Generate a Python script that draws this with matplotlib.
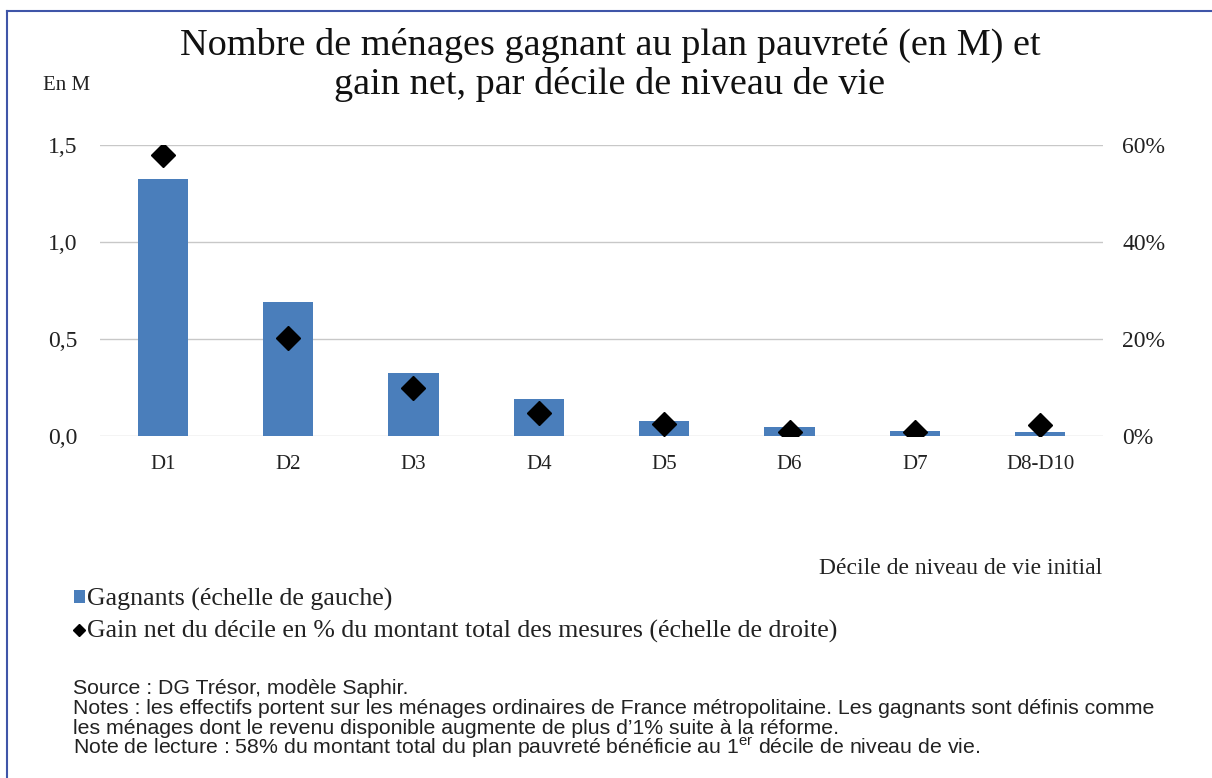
import matplotlib

matplotlib.use("Agg")
import matplotlib.pyplot as plt
from matplotlib.lines import Line2D
from matplotlib.ticker import FuncFormatter

# data
deciles = ["D1", "D2", "D3", "D4", "D5", "D6", "D7", "D8-D10"]
gagnants = [1.325, 0.69, 0.325, 0.19, 0.077, 0.046, 0.026, 0.02]  # millions of households
gain_net = [58.0, 20.2, 9.9, 4.7, 2.5, 0.8, 0.9, 2.3]  # % of total amount
left_ticks = [0.0, 0.5, 1.0, 1.5]
right_ticks = [0, 20, 40, 60]

W, H = 1212, 778
SERIF = ["Liberation Serif", "DejaVu Serif"]
SANS = ["Liberation Sans", "DejaVu Sans"]
BAR_COLOR = "#4A7EBB"
GRID_COLOR = "#C8C8C8"
FRAME_COLOR = "#3F55A8"

fig = plt.figure(figsize=(W / 100, H / 100), dpi=100)
fig.patch.set_facecolor("white")

# plot area in pixels: x 100..1103, y 145 (top) .. 436 (bottom)
ax = fig.add_axes([100 / W, 1 - 436 / H, (1103 - 100) / W, (436 - 145) / H])
ax2 = ax.twinx()

x = list(range(len(deciles)))
bars = ax.bar(x, gagnants, width=0.4, color=BAR_COLOR, zorder=2,
              label="Gagnants (échelle de gauche)")
ax.set_xlim(-0.5, len(deciles) - 0.5)
ax.set_ylim(0, 1.5)
ax.set_yticks(left_ticks)
ax.yaxis.set_major_formatter(FuncFormatter(lambda v, _: f"{v:.1f}".replace(".", ",")))
ax.set_xticks(x)
ax.set_xticklabels(deciles)
ax.grid(axis="y", color=GRID_COLOR, linewidth=1.0, zorder=0)
ax.set_axisbelow(True)

points, = ax2.plot(x, gain_net, linestyle="none", marker="D", markersize=12,
                   color="black", zorder=3,
                   label="Gain net du décile en % du montant total des mesures (échelle de droite)")
ax2.set_ylim(0, 60)
ax2.set_yticks(right_ticks)
ax2.yaxis.set_major_formatter(FuncFormatter(lambda v, _: f"{v:.0f}%"))

for a in (ax, ax2):
    for s in a.spines.values():
        s.set_visible(False)
    a.tick_params(length=0, labelsize=15, colors="#222222")
ax.tick_params(axis="y", pad=16, labelsize=17)
ax.tick_params(axis="x", pad=14)
ax2.tick_params(axis="y", pad=14, labelsize=17)
for lab in ax.get_xticklabels() + ax.get_yticklabels() + ax2.get_yticklabels():
    lab.set_fontfamily(SERIF)
ax2.set_zorder(ax.get_zorder() + 1)
ax2.patch.set_visible(False)

# title and axis captions
fig.text(610 / W, 1 - 45 / H, "Nombre de ménages gagnant au plan pauvreté (en M) et",
         ha="center", va="center", fontsize=27.5, family=SERIF, color="#111111")
fig.text(610 / W, 1 - 85 / H, "gain net, par décile de niveau de vie",
         ha="center", va="center", fontsize=27.5, family=SERIF, color="#111111")
fig.text(43 / W, 1 - 85 / H, "En M", ha="left", va="center", fontsize=15,
         family=SERIF, color="#222222")
fig.text(1102 / W, 1 - 569 / H, "Décile de niveau de vie initial", ha="right",
         va="center", fontsize=17, family=SERIF, color="#222222")

# legend
leg = fig.legend(handles=[bars, points], loc="upper left",
                 bbox_to_anchor=(74 / W, 1 - 588 / H), frameon=False,
                 prop={"family": SERIF, "size": 18.6}, handlelength=0.42,
                 handleheight=0.42, handletextpad=0.1, labelspacing=0.36,
                 markerscale=0.5, borderaxespad=0, borderpad=0)
for t in leg.get_texts():
    t.set_color("#222222")

# notes
notes = [
    "Source : DG Trésor, modèle Saphir.",
    "Notes : les effectifs portent sur les ménages ordinaires de France métropolitaine. Les gagnants sont définis comme",
    "les ménages dont le revenu disponible augmente de plus d\u20191% suite à la réforme.",
    "Note de lecture : 58% du montant total du plan pauvreté bénéficie au 1$^{\\mathregular{er}}$ décile de niveau de vie.",
]
for i, line in enumerate(notes):
    fig.text(73 / W, 1 - (688 + i * 20) / H, line, ha="left", va="center",
             fontsize=15.3, family=SANS, color="#222222")

# outer frame (top and left only)
fx, fy = 7 / W, 1 - 11 / H
fig.add_artist(Line2D([fx, 1], [fy, fy], transform=fig.transFigure,
                      color=FRAME_COLOR, linewidth=1.5))
fig.add_artist(Line2D([fx, fx], [fy, 0], transform=fig.transFigure,
                      color=FRAME_COLOR, linewidth=1.5))

fig.savefig("out.png", dpi=100)
